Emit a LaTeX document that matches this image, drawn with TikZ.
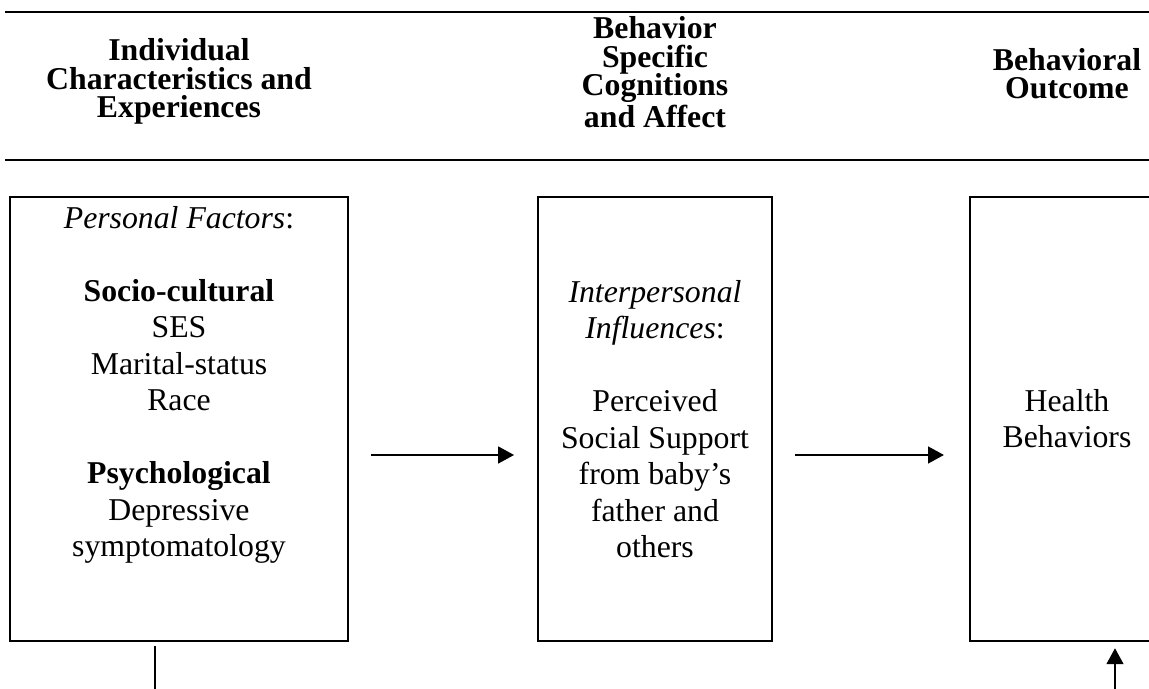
\documentclass[tikz,border=0pt]{standalone}
\usepackage{fontspec}
\setmainfont{Liberation Serif}
\usetikzlibrary{positioning,arrows.meta}
\newcommand{\pxu}{0.01327cm}
\tikzstyle{sheet} = [x = 0.01327cm, y = -0.01327cm]
\tikzstyle{ruleLine} = [line width=1.1pt]
\tikzstyle{boxStyle} = [draw, line width=0.9pt, inner sep=0, minimum height=444*\pxu]
\tikzstyle{headText} = [font=\fontsize{12}{10.9}\selectfont\bfseries, align=center, anchor=base, inner sep=0]
\tikzstyle{boxText} = [font=\fontsize{12}{13.8}\selectfont, align=center, anchor=base, inner sep=0]
\tikzstyle{flowLine} = [line width=0.6pt]
\tikzstyle{flowArrow} = [flowLine, -{Triangle[length=6pt, width=6.4pt]}]

\begin{document}
\begin{tikzpicture}[sheet]
      \clip (0,0) rectangle (1149,689);

      % header band (base = last line)
      \draw[ruleLine] (5,12) -- (1160,12);
      \draw[ruleLine] (5,160) -- (1160,160);
      \node[headText] (headIndividual) at (179,118) {Individual\\Characteristics and\\Experiences};
      \node[headText] (headCognition) at (655,128) {Behavior\\Specific\\Cognitions\\and Affect};
      \node[headText] (headOutcome) at (1067,99) {Behavioral\\Outcome};

      % boxes
      \node[boxStyle, minimum width=338*\pxu] (personal) at (179,419) {};
      \node[boxStyle, minimum width=234*\pxu] (influence) at (655,419) {};
      \node[boxStyle, minimum width=194*\pxu] (outcome) at (1067,419) {};

      \node[boxText] (personalText) at (179,557) {\textit{Personal Factors}:\\[13.8pt]
        \textbf{Socio-cultural}\\SES\\Marital-status\\Race\\[13.8pt]
        \textbf{Psychological}\\Depressive\\symptomatology};
      \node[boxText] (influenceText) at (655,558) {\textit{Interpersonal}\\\textit{Influences}:\\[13.8pt]
        Perceived\\Social Support\\from baby’s\\father and\\others};
      \node[boxText] (outcomeText) at (1067,448) {Health\\Behaviors};

      % arrows
      \coordinate (arrowLevel) at (0,455);
      \draw[flowArrow, shorten <=8.3pt, shorten >=8.6pt] (personal.east |- arrowLevel) -- (influence.west |- arrowLevel);
      \draw[flowArrow, shorten <=8.3pt, shorten >=9.4pt] (influence.east |- arrowLevel) -- (outcome.west |- arrowLevel);

      \coordinate (lowLeft) at (155,700);
      \coordinate (lowRight) at (1115,700);
      \draw[flowLine, shorten >=1.5pt] (lowLeft) -- (lowLeft |- personal.south);
      \draw[flowArrow, shorten >=2.3pt] (lowRight) -- (lowRight |- outcome.south);
\end{tikzpicture}
\end{document}
